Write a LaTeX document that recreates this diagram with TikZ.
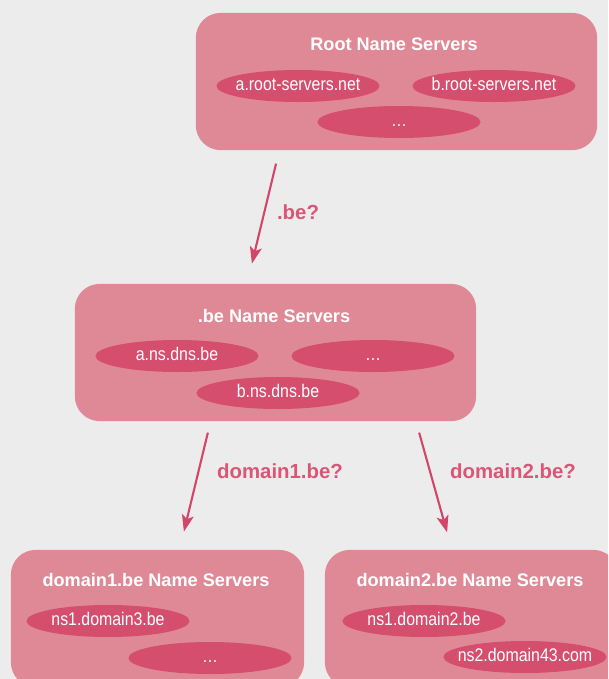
\documentclass[tikz,border=0pt]{standalone}
\usepackage{fontspec}
\setmainfont{Liberation Sans}
\newfontfamily\narrowfont[FakeStretch=0.87]{Liberation Sans}
\usepackage{tikz}
\usetikzlibrary{positioning, shapes.geometric, arrows.meta, calc}
\definecolor{dnsBack}{RGB}{236,236,236}
\definecolor{dnsBox}{RGB}{224,137,150}
\definecolor{dnsEll}{RGB}{214,78,110}
\definecolor{dnsArrow}{RGB}{210,70,106}
\definecolor{dnsLabel}{RGB}{218,86,119}

\tikzset{
	zonebox/.style={rectangle, rounded corners=0.62cm, fill=dnsBox, draw=none},
	zonetitle/.style={text=white, font=\fontsize{12.9}{14}\selectfont\bfseries},
	server/.style={ellipse, fill=dnsEll, draw=none, minimum width=4.08cm, minimum height=0.8cm, inner xsep=-0.8cm, inner ysep=0pt, text height=9.5pt, text depth=2.5pt, text=white, font=\narrowfont\fontsize{13}{14}\selectfont},
	query/.style={draw=dnsArrow, line width=1.5pt, -{Stealth[length=4.2mm, width=3mm, inset=1mm]}},
	qlabel/.style={text=dnsLabel, font=\fontsize{14.5}{16}\selectfont\bfseries}
}

\begin{document}
\begin{tikzpicture}[x=0.025cm, y=-0.025cm]
	% Background
	\fill[dnsBack] (0,0) rectangle (608,679);
	\useasboundingbox (0,0) rectangle (608,679);
	\clip (0,0) rectangle (608,679);
	
	% Zones
	\node[zonebox, minimum width=10.03cm, minimum height=3.43cm] (root) at (396.5,81.5) {};
	\node[zonebox, minimum width=10.03cm, minimum height=3.43cm] (be) at (275.5,352.5) {};
	\node[zonebox, minimum width=7.33cm, minimum height=3.43cm] (dom1) at (157.5,618.5) {};
	\node[zonebox, minimum width=7.33cm, minimum height=3.43cm] (dom2) at (471.5,618.5) {};
	
	% Titles
	\node[zonetitle] (rootT) at (394,44) {Root Name Servers};
	\node[zonetitle] (beT) at (274,316) {.be Name Servers};
	\node[zonetitle] (dom1T) at (156,580) {domain1.be Name Servers};
	\node[zonetitle] (dom2T) at (470,580) {domain2.be Name Servers};
	
	% Servers
	\node[server] (rootA) at (298,86) {a.root-servers.net};
	\node[server] (rootB) at (494,86) {b.root-servers.net};
	\node[server] (rootC) at (399,122) {\dots};
	
	\node[server] (beA) at (177,356) {a.ns.dns.be};
	\node[server] (beC) at (373,356) {\dots};
	\node[server] (beB) at (278,393) {b.ns.dns.be};
	
	\node[server] (dom1A) at (108,621) {ns1.domain3.be};
	\node[server] (dom1B) at (210,658) {\dots};
	
	\node[server] (dom2A) at (424,621) {ns1.domain2.be};
	\node[server] (dom2B) at (525,657) {ns2.domain43.com};
	
	% Queries
	\draw[query] ([xshift=-3.01cm, yshift=-0.33cm]root.south) -- ([xshift=-0.59cm, yshift=0.5cm]be.north);
	\node[qlabel] (q1) at (298,212) {.be?};
	
	\draw[query] ([xshift=-1.69cm, yshift=-0.28cm]be.south) -- ([xshift=0.66cm, yshift=0.45cm]dom1.north);
	\node[qlabel] (q2) at (280,471) {domain1.be?};
	
	\draw[query] ([xshift=3.59cm, yshift=-0.28cm]be.south) -- ([xshift=-0.61cm, yshift=0.43cm]dom2.north);
	\node[qlabel] (q3) at (513,471) {domain2.be?};
\end{tikzpicture}
\end{document}
